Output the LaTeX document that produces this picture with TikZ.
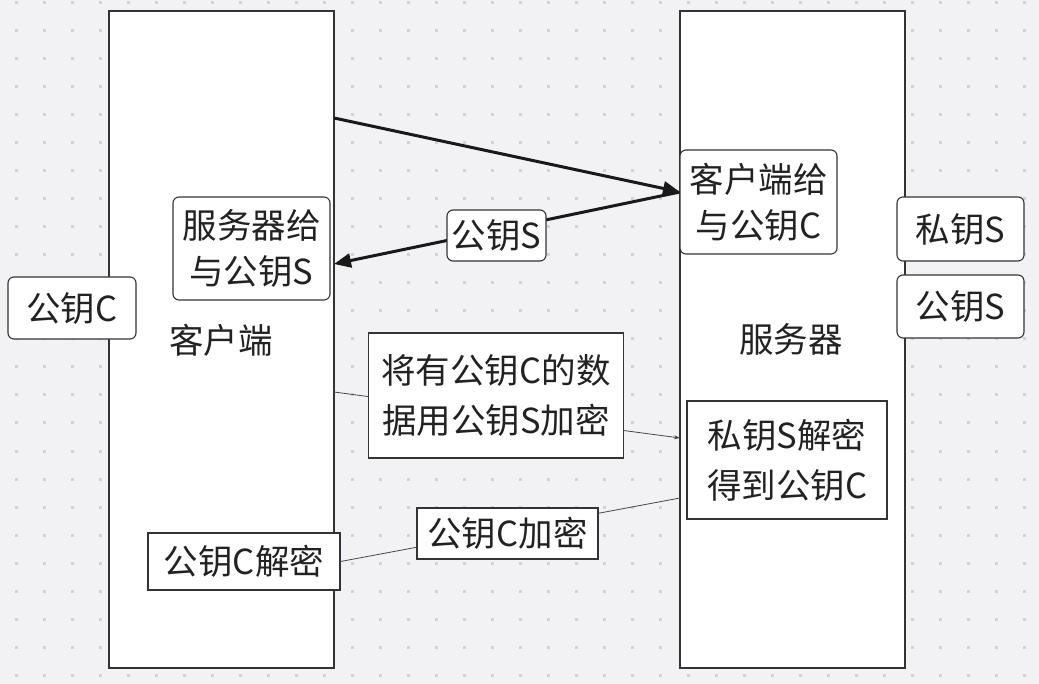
\documentclass[tikz,border=0pt]{standalone}
\usepackage{fontspec}
\setmainfont{Noto Sans CJK SC}
\usetikzlibrary{arrows.meta}
\definecolor{bgc}{HTML}{F2F2F4}
\definecolor{dotc}{HTML}{D2D2D6}
\definecolor{linec}{HTML}{333333}
\definecolor{txtc}{HTML}{222222}
\tikzset{
  bigbox/.style={draw=linec, line width=1.6pt, fill=white},
  rbox/.style={draw=linec, line width=1.1pt, fill=white, rounded corners=6pt, inner sep=0pt, align=center, text=txtc, font=\fontsize{34.5}{46}\selectfont},
  sbox/.style={draw=linec, line width=1.1pt, fill=white, inner sep=0pt, align=center, text=txtc, font=\fontsize{34.5}{50}\selectfont},
  plain/.style={inner sep=0pt, text=txtc, font=\fontsize{34.5}{46}\selectfont},
  thickarrow/.style={draw=black!90, line width=3pt, -{Triangle[length=17pt,width=14pt]}},
  thinline/.style={draw=linec!90, line width=0.8pt},
}
\begin{document}
\begin{tikzpicture}[x=1pt,y=-1pt]
\useasboundingbox (0,0) rectangle (1039,684);
\fill[bgc] (0,0) rectangle (1039,684);
\foreach \i in {0,...,36} {
  \foreach \j in {0,...,24} {
    \fill[dotc] ({16+28*\i-1.5},{3+28*\j-1.5}) rectangle ++(3,3);
  }
}
% big boxes
\node[bigbox, minimum width=225pt, minimum height=657pt, inner sep=0pt] (client) at (221.5,339.5) {};
\node[bigbox, minimum width=225pt, minimum height=657pt, inner sep=0pt] (server) at (792.5,339.5) {};
% anchor coordinates on the big boxes
\coordinate (c1) at (334,118);
\coordinate (c2) at (334,264);
\coordinate (c3) at (334,392);
\coordinate (s1) at (680,192);
\coordinate (s2) at (680,438);
\coordinate (s3) at (680,498);
% labels
\node[plain] (clabel) at (221,340) {客户端};
\node[plain] (slabel) at (791,339) {服务器};
% connectors
\draw[thickarrow] (c1) -- (s1);
\draw[thickarrow] (s1) -- (c2);
\draw[thinline, -{Stealth[length=6pt,width=4pt]}] (c3) -- (s2);
% nodes
\node[rbox, minimum width=128pt, minimum height=62pt] (pubC) at (72,308) {公钥C};
\node[rbox, minimum width=157pt, minimum height=103pt] (sgive) at (251.5,248.5) {服务器给\\与公钥S};
\node[rbox, minimum width=157pt, minimum height=104pt] (cgive) at (758.5,202) {客户端给\\与公钥C};
\node[rbox, minimum width=127pt, minimum height=64pt] (privS) at (960.5,229) {私钥S};
\node[rbox, minimum width=127pt, minimum height=63pt] (pubS) at (960.5,306.5) {公钥S};
\node[rbox, minimum width=99pt, minimum height=51pt] (pubSlbl) at (496.5,235.5) {公钥S};
\node[sbox, minimum width=255pt, minimum height=125pt] (enc) at (496,395.5) {将有公钥C的数\\据用公钥S加密};
\node[sbox, minimum width=200pt, minimum height=118pt] (dec) at (787,460) {私钥S解密\\得到公钥C};
\node[sbox, minimum width=192pt, minimum height=57pt] (cdec) at (244,561.5) {公钥C解密};
\draw[thinline] (s3) -- (cdec.east);
\node[sbox, minimum width=181pt, minimum height=51pt] (cenc) at (507.5,533.5) {公钥C加密};
\end{tikzpicture}
\end{document}
